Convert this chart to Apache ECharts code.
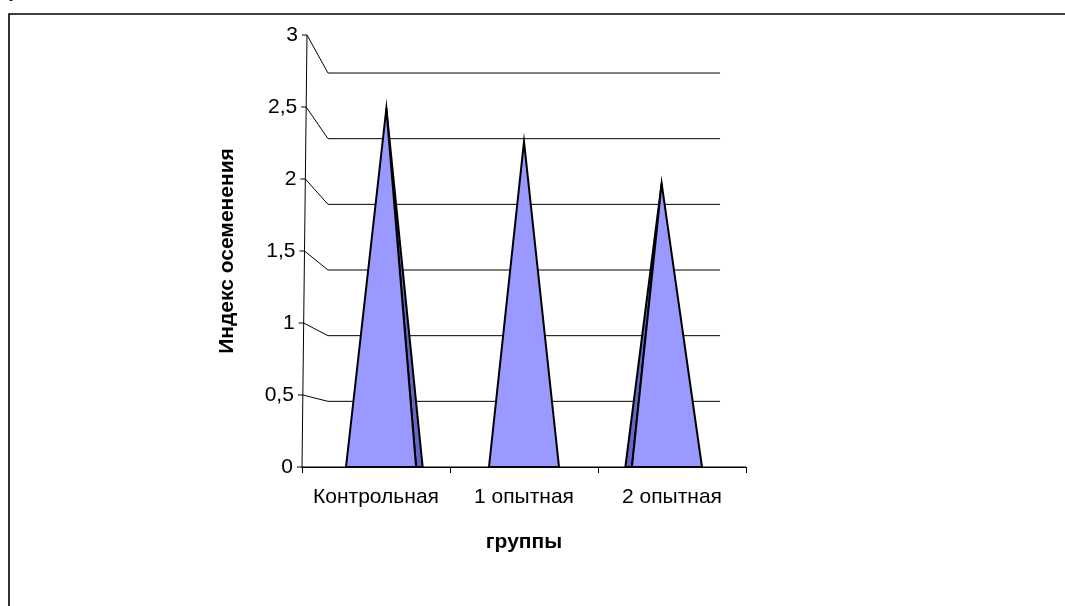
<!DOCTYPE html>
<html>
<head>
<meta charset="utf-8">
<script src="https://cdn.jsdelivr.net/npm/echarts@6/dist/echarts.min.js"></script>
<style>
  html, body { margin: 0; padding: 0; background: #fff; }
  #chart { width: 1065px; height: 606px; }
</style>
</head>
<body>
<div id="chart"></div>
<script>
// Insemination index by group
const categories = ['Контрольная', '1 опытная', '2 опытная'];
const seedingIndex = [2.49, 2.26, 1.97];
const yTicks = [0, 0.5, 1, 1.5, 2, 2.5, 3];
const yTickLabels = ['0', '0,5', '1', '1,5', '2', '2,5', '3'];

// pseudo-3D box: back wall is a shrunken copy of the front plane,
// pulled toward the middle of the floor line
const BACK_SX = 0.883, BACK_SY = 0.912;
const FRONT_S = 0.966, REAR_S = 0.907, APEX_S = 0.93;
const HALF_BASE = 0.245;      // half of a pyramid base, share of the band
const AXIS_LEAN = 0.0116;     // front value axis leans right as it rises
const FONT = '"Liberation Sans", Arial, sans-serif';
const LABEL_SIZE = 21;

const chart = echarts.init(document.getElementById('chart'), null, { renderer: 'canvas' });

function vanishing(cs) {
  return { vx: cs.x + cs.width / 2, vy: cs.y + cs.height };
}

// value axis, side-wall gridlines and back-wall gridlines
function renderWalls(params, api) {
  const cs = params.coordSys;
  const { vx, vy } = vanishing(cs);
  const v = api.value(1);
  const idx = api.value(2);
  const y = api.coord([0, v])[1];
  const ax = cs.x + AXIS_LEAN * (vy - y);
  const by = vy - (vy - y) * BACK_SY;
  const bxl = vx - (cs.width / 2) * BACK_SX;
  const bxr = vx + (cs.width / 2) * BACK_SX;
  const line = { stroke: '#000', lineWidth: 1 };
  const children = [
    { type: 'line', shape: { x1: ax - 5, y1: y, x2: ax, y2: y }, style: line },
    { type: 'line', shape: { x1: ax, y1: y, x2: bxl, y2: by }, style: line },
    { type: 'line', shape: { x1: bxl, y1: by, x2: bxr, y2: by }, style: line },
    {
      type: 'text',
      style: {
        text: yTickLabels[idx], x: ax - 9, y: y,
        align: 'right', verticalAlign: 'middle',
        fill: '#000', font: LABEL_SIZE + 'px ' + FONT
      }
    }
  ];
  if (params.dataIndex === 0) {
    const y0 = api.coord([0, yTicks[0]])[1];
    const y1 = api.coord([0, yTicks[yTicks.length - 1]])[1];
    children.push({
      type: 'line',
      shape: { x1: cs.x + AXIS_LEAN * (vy - y0), y1: y0, x2: cs.x + AXIS_LEAN * (vy - y1), y2: y1 },
      style: line
    });
    children.push({
      type: 'line',
      shape: { x1: bxr, y1: by, x2: cs.x + cs.width, y2: y },
      style: line
    });
  }
  return { type: 'group', children };
}

// square pyramids standing on the floor
function renderPyramid(params, api) {
  const cs = params.coordSys;
  const { vx } = vanishing(cs);
  const cat = api.value(0);
  const base = api.coord([cat, 0]);
  const top = api.coord([cat, api.value(1)]);
  const hw = api.size([1, 0])[0] * HALF_BASE;
  const px = (x, s) => vx + (x - vx) * s;
  const by = base[1];
  const fl = [px(base[0] - hw, FRONT_S), by];
  const fr = [px(base[0] + hw, FRONT_S), by];
  const rl = [px(base[0] - hw, REAR_S), by];
  const rr = [px(base[0] + hw, REAR_S), by];
  const apex = [px(top[0], APEX_S), top[1]];
  const edge = { stroke: '#000', lineWidth: 2, lineJoin: 'miter', miterLimit: 20 };
  const children = [];
  if (rr[0] > fr[0] + 0.5) {
    children.push({ type: 'polygon', shape: { points: [fr, rr, apex] },
      style: Object.assign({ fill: '#6666c4' }, edge) });
  }
  if (rl[0] < fl[0] - 0.5) {
    children.push({ type: 'polygon', shape: { points: [rl, fl, apex] },
      style: Object.assign({ fill: '#6666c4' }, edge) });
  }
  children.push({ type: 'polygon', shape: { points: [fl, fr, apex] },
    style: Object.assign({ fill: '#9999ff' }, edge) });
  return { type: 'group', children };
}

chart.setOption({
  animation: false,
  backgroundColor: '#fff',
  textStyle: { fontFamily: FONT },
  graphic: [
    {
      type: 'rect', silent: true,
      shape: { x: 9, y: 14, width: 1200, height: 800 },
      style: { fill: 'none', stroke: '#000', lineWidth: 1.6 }
    },
    {
      type: 'text', silent: true, left: 9, top: -15,
      style: { text: 'р', font: '16px "Liberation Serif", serif', fill: '#000' }
    }
  ],
  grid: { left: 302, top: 35, width: 444, height: 432, containLabel: false },
  xAxis: {
    type: 'category',
    data: categories,
    boundaryGap: true,
    axisLine: { show: true, lineStyle: { color: '#000', width: 1 } },
    axisTick: { show: true, length: 6, lineStyle: { color: '#000' } },
    axisLabel: { color: '#000', fontSize: LABEL_SIZE, fontFamily: FONT, margin: 20, interval: 0 },
    splitLine: { show: false },
    name: 'группы',
    nameLocation: 'middle',
    nameGap: 65,
    nameTextStyle: { color: '#000', fontSize: LABEL_SIZE, fontWeight: 'bold', fontFamily: FONT }
  },
  yAxis: {
    type: 'value',
    min: 0, max: 3, interval: 0.5,
    axisLine: { show: false },
    axisTick: { show: false },
    axisLabel: { show: false },
    splitLine: { show: false },
    name: 'Индекс осеменения',
    nameLocation: 'middle',
    nameRotate: 90,
    nameGap: 64,
    nameTextStyle: { color: '#000', fontSize: 21, fontWeight: 'bold', fontFamily: FONT }
  },
  series: [
    {
      type: 'custom',
      name: 'walls',
      silent: true,
      renderItem: renderWalls,
      data: yTicks.map((t, i) => [0, t, i]),
      encode: { x: 0, y: 1 },
      z: 1
    },
    {
      type: 'custom',
      name: 'Индекс осеменения',
      renderItem: renderPyramid,
      data: seedingIndex.map((v, i) => [i, v]),
      encode: { x: 0, y: 1 },
      z: 3
    }
  ]
});
</script>
</body>
</html>
